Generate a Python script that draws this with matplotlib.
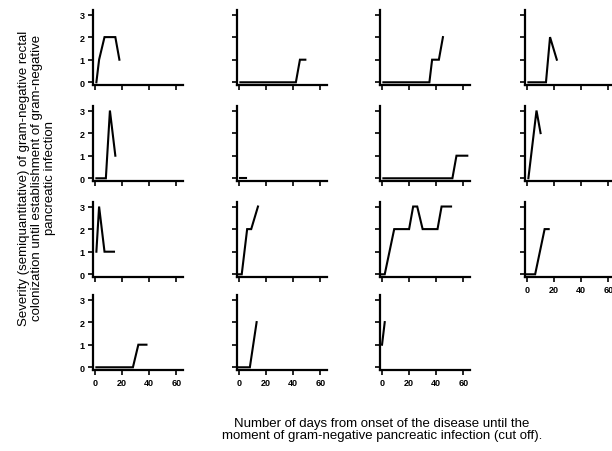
import matplotlib
matplotlib.use("Agg")
import matplotlib.pyplot as plt

plt.rcParams['font.family'] = ['Liberation Sans', 'DejaVu Sans']

# days / severity per patient (row, col order)
days_r1c1 = [1, 3, 7, 15, 18]
sev_r1c1 = [0, 1, 2, 2, 1]
days_r1c2 = [1, 42, 45, 49]
sev_r1c2 = [0, 0, 1, 1]
days_r1c3 = [1, 35, 37, 42, 45]
sev_r1c3 = [0, 0, 1, 1, 2]
days_r1c4 = [1, 14, 17, 22]
sev_r1c4 = [0, 0, 2, 1]

days_r2c1 = [1, 8, 11, 15]
sev_r2c1 = [0, 0, 3, 1]
days_r2c2 = [1, 5]
sev_r2c2 = [0, 0]
days_r2c3 = [1, 52, 55, 63]
sev_r2c3 = [0, 0, 1, 1]
days_r2c4 = [1, 7, 10]
sev_r2c4 = [0, 3, 2]

days_r3c1 = [1, 3, 7, 14]
sev_r3c1 = [1, 3, 1, 1]
days_r3c2 = [0, 2, 6, 9, 14]
sev_r3c2 = [0, 0, 2, 2, 3]
days_r3c3 = [0, 2, 9, 20, 23, 26, 30, 41, 44, 51]
sev_r3c3 = [0, 0, 2, 2, 3, 3, 2, 2, 3, 3]
days_r3c4 = [0, 6, 13, 16]
sev_r3c4 = [0, 0, 2, 2]

days_r4c1 = [1, 28, 32, 38]
sev_r4c1 = [0, 0, 1, 1]
days_r4c2 = [0, 8, 13]
sev_r4c2 = [0, 0, 2]
days_r4c3 = [0, 2]
sev_r4c3 = [1, 2]

panels = [
    (0, 0, days_r1c1, sev_r1c1), (0, 1, days_r1c2, sev_r1c2),
    (0, 2, days_r1c3, sev_r1c3), (0, 3, days_r1c4, sev_r1c4),
    (1, 0, days_r2c1, sev_r2c1), (1, 1, days_r2c2, sev_r2c2),
    (1, 2, days_r2c3, sev_r2c3), (1, 3, days_r2c4, sev_r2c4),
    (2, 0, days_r3c1, sev_r3c1), (2, 1, days_r3c2, sev_r3c2),
    (2, 2, days_r3c3, sev_r3c3), (2, 3, days_r3c4, sev_r3c4),
    (3, 0, days_r4c1, sev_r4c1), (3, 1, days_r4c2, sev_r4c2),
    (3, 2, days_r4c3, sev_r4c3),
]

x_ticks = [0, 20, 40, 60]
y_ticks = [0, 1, 2, 3]

W, H = 612, 452
col_left = [93, 237, 380, 525]    # pixel position of left spine
row_bottom = [86, 182, 278, 371]  # pixel position of bottom spine
ax_w, ax_h = 90, 75

fig = plt.figure(figsize=(W / 100, H / 100), dpi=100)

for r, c, x, y in panels:
    ax = fig.add_axes([col_left[c] / W, 1 - row_bottom[r] / H, ax_w / W, ax_h / H])
    ax.plot(x, y, color='black', linewidth=1.5, solid_joinstyle='miter')
    ax.set_xlim(-1.5, 65)
    ax.set_ylim(-0.12, 3.2)
    for s in ['top', 'right']:
        ax.spines[s].set_visible(False)
    for s in ['left', 'bottom']:
        ax.spines[s].set_linewidth(1.6)
    ax.set_xticks(x_ticks)
    ax.set_yticks(y_ticks)
    ax.tick_params(direction='out', length=3.5, width=1.2, labelsize=6.5, pad=2.5)
    bottom_of_col = (r == 3) or (c == 3 and r == 2)
    if not bottom_of_col:
        ax.set_xticklabels([])
    else:
        ax.set_xticklabels([str(t) for t in x_ticks], fontweight='bold')
    if c != 0:
        ax.set_yticklabels([])
    else:
        ax.set_yticklabels([str(t) for t in y_ticks], fontweight='bold')

fig.text(37 / W, 1 - 178 / H,
         "Severity (semiquantitative) of gram-negative rectal\n"
         "colonization until establishment of gram-negative\n"
         "pancreatic infection",
         rotation=90, ha='center', va='center', fontsize=9.5, linespacing=1.1)

fig.text(382 / W, 1 - 430 / H,
         "Number of days from onset of the disease until the\n"
         "moment of gram-negative pancreatic infection (cut off).",
         ha='center', va='center', fontsize=9.5, linespacing=1.1)

fig.savefig("out.png", dpi=100)
